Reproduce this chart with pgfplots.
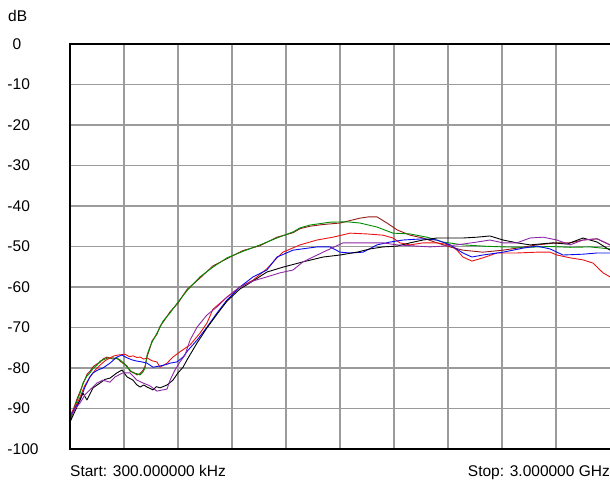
\documentclass[border=0pt]{standalone}
\usepackage{fontspec}
\setmainfont{Liberation Sans}
\usepackage{pgfplots}
\pgfplotsset{compat=1.18}
\definecolor{cgreen}{RGB}{0,140,0}
\definecolor{cmaroon}{RGB}{150,25,25}
\definecolor{cred}{RGB}{235,20,20}
\definecolor{cblue}{RGB}{10,10,240}
\definecolor{cpurple}{RGB}{140,40,165}
\definecolor{cgrid}{RGB}{155,155,155}
\begin{document}
\fontsize{15.5}{18}\selectfont
\begin{tikzpicture}
\path[use as bounding box] (0pt,0pt) rectangle (610pt,483pt);
\begin{axis}[
  name=ax,
  at={(70pt,34pt)}, anchor=south west,
  scale only axis, width=540pt, height=405pt,
  xmin=0, xmax=3000, ymin=-100, ymax=0,
  axis line style={draw=none},
  xtick={300,600,...,2700}, xticklabels={},
  ytick={-100,-90,...,0},
  yticklabels={-100,-90,-80,-70,-60,-50,-40,-30,-20,-10,{\hphantom{-}0}},
  yticklabel style={anchor=west, inner sep=0pt, xshift=-62.7pt},
  major tick length=0pt,
  grid=major,
  major grid style={cgrid, line width=1.4pt},
  every axis plot/.append style={line width=0.9pt, line join=round},
]
\addplot[cmaroon] coordinates {(0.3,-93.4) (20,-90.0) (40,-87.5) (56,-85.8) (72,-84.0) (94,-81.6) (111,-80.8) (130,-79.6) (150,-79.0) (167,-78.6) (183,-77.8) (205,-77.3) (239,-77.8) (260,-77.4) (278,-78.3) (300,-79.0) (317,-79.5) (335,-80.9) (350,-81.0) (372,-81.7) (389,-81.4) (405,-80.6) (417,-79.6) (428,-77.2) (444,-75.1) (456,-73.3) (483,-71.7) (500,-69.7) (517,-68.7) (556,-66.1) (600,-64.0) (650,-60.6) (722,-57.8) (794,-54.8) (872,-53.0) (961,-51.0) (1056,-49.8) (1150,-47.7) (1239,-46.6) (1278,-45.6) (1333,-45.0) (1400,-44.6) (1500,-44.2) (1611,-43.0) (1656,-42.7) (1706,-42.7) (1761,-44.2) (1817,-45.9) (1889,-47.2) (1961,-47.9) (2039,-49.1) (2111,-50.1) (2183,-50.9) (2294,-51.4) (2406,-50.9) (2483,-50.4) (2594,-49.6) (2706,-49.1) (2778,-49.1) (2850,-48.4) (2928,-48.1) (3000,-49.6)};
\addplot[cgreen] coordinates {(0.3,-93.1) (20,-90.5) (40,-88.0) (56,-86.2) (72,-83.7) (94,-82.0) (111,-81.2) (130,-80.0) (150,-79.3) (167,-78.3) (183,-78.0) (205,-77.6) (239,-77.5) (260,-77.7) (278,-78.0) (300,-78.8) (317,-79.8) (335,-80.6) (350,-81.2) (372,-81.4) (389,-81.7) (405,-81.0) (417,-80.0) (428,-76.8) (444,-74.8) (456,-73.6) (483,-71.4) (500,-70.0) (517,-68.4) (556,-66.4) (600,-63.7) (650,-60.9) (722,-57.5) (794,-55.1) (872,-52.8) (961,-51.2) (1056,-49.6) (1150,-47.9) (1239,-46.4) (1278,-45.4) (1333,-44.7) (1444,-44.0) (1539,-43.9) (1611,-44.2) (1706,-45.2) (1794,-46.7) (1889,-46.9) (1983,-47.7) (2072,-48.9) (2183,-49.6) (2294,-49.9) (2406,-50.1) (2539,-50.2) (2667,-50.0) (2778,-50.2) (2889,-50.1) (3000,-50.6)};
\addplot[cred] coordinates {(0.3,-91.6) (30,-89.5) (56,-87.2) (80,-84.5) (111,-82.2) (140,-80.5) (167,-79.3) (195,-78.2) (222,-77.5) (245,-77.0) (267,-76.8) (306,-76.6) (330,-77.2) (350,-77.0) (372,-77.4) (389,-77.3) (410,-77.8) (428,-77.5) (455,-78.2) (483,-78.5) (500,-79.8) (520,-79.3) (539,-78.8) (572,-77.3) (611,-76.0) (650,-74.8) (667,-74.3) (722,-71.4) (761,-68.9) (794,-65.5) (872,-62.5) (944,-60.0) (1017,-58.3) (1094,-55.5) (1150,-52.8) (1183,-51.4) (1278,-49.6) (1372,-48.4) (1461,-47.7) (1556,-46.7) (1650,-46.9) (1739,-47.2) (1794,-47.9) (1833,-49.1) (1889,-49.6) (1961,-49.1) (2039,-49.1) (2111,-49.6) (2150,-50.9) (2183,-52.6) (2233,-53.6) (2294,-52.8) (2372,-51.6) (2483,-51.6) (2594,-51.4) (2667,-51.4) (2706,-52.1) (2778,-52.8) (2850,-53.3) (2906,-54.1) (2961,-56.5) (3000,-57.5)};
\addplot[cblue] coordinates {(0.3,-92.1) (30,-89.8) (56,-87.9) (85,-84.5) (111,-82.2) (128,-81.2) (155,-80.5) (183,-80.0) (222,-78.8) (261,-77.3) (289,-76.8) (317,-77.5) (345,-78.0) (372,-78.3) (400,-78.5) (428,-78.8) (461,-79.8) (500,-79.5) (530,-79.2) (556,-78.8) (594,-78.5) (628,-77.3) (656,-75.6) (706,-73.1) (761,-69.9) (817,-66.4) (872,-63.2) (944,-60.0) (1017,-57.5) (1094,-55.8) (1150,-52.6) (1239,-50.9) (1372,-50.1) (1444,-50.1) (1500,-51.4) (1556,-51.6) (1628,-51.4) (1706,-49.6) (1778,-48.9) (1850,-48.4) (1961,-48.1) (2039,-48.4) (2111,-49.6) (2183,-51.6) (2233,-52.6) (2294,-52.1) (2406,-51.4) (2517,-50.4) (2594,-49.9) (2667,-50.6) (2739,-52.1) (2850,-51.9) (2928,-51.6) (3000,-51.6)};
\addplot[black] coordinates {(0.3,-93.3) (39,-89.6) (72,-86.2) (94,-87.9) (128,-84.9) (167,-83.7) (195,-82.8) (222,-82.5) (261,-81.2) (289,-80.5) (317,-82.2) (350,-83.0) (370,-84.1) (389,-84.7) (410,-84.2) (428,-84.7) (461,-85.4) (480,-84.6) (500,-84.9) (539,-84.2) (572,-83.0) (600,-81.2) (628,-79.8) (650,-78.0) (706,-73.8) (761,-70.1) (817,-66.7) (872,-63.5) (944,-60.5) (1017,-58.5) (1094,-56.3) (1183,-55.1) (1294,-53.8) (1406,-52.6) (1500,-52.1) (1594,-51.4) (1667,-50.6) (1739,-50.1) (1817,-49.9) (1889,-49.1) (1961,-48.4) (2039,-47.9) (2183,-47.9) (2261,-47.7) (2333,-47.4) (2406,-48.4) (2483,-49.1) (2556,-49.6) (2683,-49.1) (2761,-49.4) (2850,-47.9) (2928,-48.9) (3000,-50.9)};
\addplot[cpurple] coordinates {(0.3,-92.3) (30,-90.0) (56,-88.6) (85,-86.5) (111,-85.4) (150,-83.7) (183,-83.0) (222,-83.5) (250,-82.2) (294,-81.2) (333,-81.2) (372,-83.0) (406,-83.7) (444,-84.4) (483,-85.7) (517,-85.4) (539,-85.2) (556,-83.0) (583,-80.5) (611,-78.5) (639,-76.8) (667,-73.1) (706,-69.9) (761,-66.9) (817,-64.9) (872,-62.5) (944,-60.0) (1017,-58.5) (1094,-57.5) (1167,-56.5) (1239,-55.8) (1294,-53.8) (1406,-51.4) (1517,-49.1) (1628,-49.1) (1739,-49.1) (1817,-49.6) (1928,-49.9) (2000,-50.1) (2072,-49.9) (2150,-49.6) (2261,-48.9) (2333,-48.4) (2406,-49.1) (2483,-49.1) (2556,-47.9) (2628,-47.7) (2706,-48.4) (2778,-49.6) (2850,-48.4) (2928,-48.1) (3000,-49.6)};
\end{axis}
\draw[black, line width=1.6pt] (ax.north east) -- (ax.north west) -- (ax.south west) -- (ax.south east);
\node[anchor=base west, inner sep=0pt] at ([yshift=-27pt]ax.south west) {Start: 300.000000 kHz};
\node[anchor=base east, inner sep=0pt] at ([yshift=-27pt]ax.south east) {Stop: 3.000000 GHz};
\node[anchor=base west, inner sep=0pt] at (8pt,461.3pt) {dB};
\end{tikzpicture}
\end{document}
